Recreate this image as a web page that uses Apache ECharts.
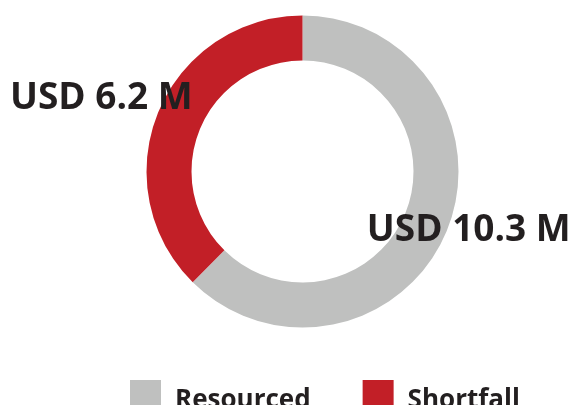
<!DOCTYPE html>
<html>
<head>
<meta charset="utf-8">
<script src="https://cdn.jsdelivr.net/npm/echarts@6/dist/echarts.min.js"></script>
<style>
  html, body { margin: 0; padding: 0; background: #fff; }
  #chart { width: 570px; height: 405px; }
</style>
</head>
<body>
<div id="chart"></div>
<script>
  // funding split, USD millions
  var categories = ['Resourced', 'Shortfall'];
  var amounts = [10.3, 6.2];
  var colors = ['#BFC0BF', '#C21F27'];
  // where each label sits relative to its arc midpoint
  var labelOffsets = [[40, 7], [-75, -21]];

  var chart = echarts.init(document.getElementById('chart'));

  var pieData = categories.map(function (name, i) {
    return {
      name: name,
      value: amounts[i],
      itemStyle: { color: colors[i] },
      label: { offset: labelOffsets[i] }
    };
  });

  chart.setOption({
    animation: false,
    legend: {
      data: categories,
      left: 130,
      top: 380,
      padding: 0,
      icon: 'rect',
      itemWidth: 31,
      itemHeight: 31,
      itemGap: 52,
      selectedMode: false,
      formatter: '{t|{name}}',
      textStyle: {
        rich: {
          t: {
            fontFamily: 'Open Sans',
            fontWeight: 'bold',
            fontSize: 26,
            color: '#231F20',
            padding: [10, 0, 0, 9]
          }
        }
      }
    },
    series: [{
      type: 'pie',
      center: [302.5, 171.5],
      radius: [111, 156],
      startAngle: 90,
      clockwise: true,
      silent: true,
      label: {
        show: true,
        position: 'inside',
        formatter: function (p) { return 'USD ' + p.value + ' M'; },
        fontFamily: 'Open Sans',
        fontWeight: 'bold',
        fontSize: 37,
        color: '#231F20'
      },
      labelLine: { show: false },
      data: pieData
    }]
  });
</script>
</body>
</html>
